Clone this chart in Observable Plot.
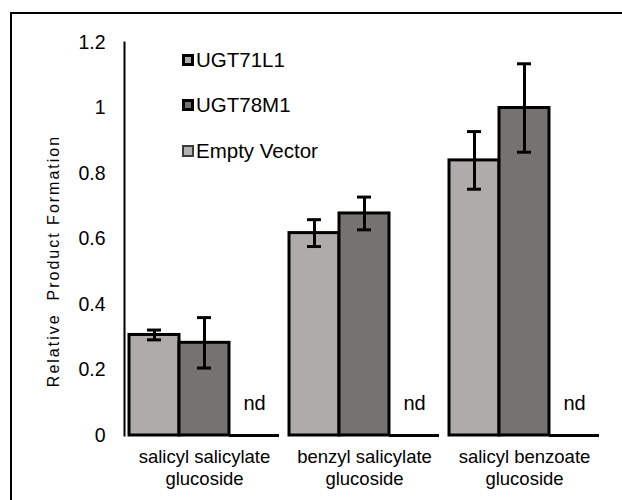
<!DOCTYPE html>
<html>
<head>
<meta charset="utf-8">
<script src="https://cdn.jsdelivr.net/npm/d3@7"></script>
<script src="https://cdn.jsdelivr.net/npm/@observablehq/plot@0.6"></script>
<style>
  body { margin: 0; background: #fff; font-family: "Liberation Sans", Arial, sans-serif; }
  #chart { position: relative; width: 622px; height: 500px; overflow: hidden; }
  #chart > svg { position: absolute; left: 0; top: 0; }
  #border { position: absolute; left: 10px; top: 12px; width: 640px; height: 520px; border: 2px solid #000; box-sizing: border-box; pointer-events: none; }
  #legend { position: absolute; left: 182px; top: 0; }
  .item { position: absolute; left: 0; white-space: nowrap; display: flex; align-items: center; height: 24px; font-size: 20.5px; color: #000; }
  .swatch { width: 12px; height: 12px; box-sizing: border-box; margin-right: 2px; }
</style>
</head>
<body>
<div id="chart"><div id="border"></div><div id="legend"></div></div>
<script>
// Substrates tested, with their two-line axis labels
const substrates = ["salicyl salicylate glucoside", "benzyl salicylate glucoside", "salicyl benzoate glucoside"];
const substrateLabels = ["salicyl salicylate\nglucoside", "benzyl salicylate\nglucoside", "salicyl benzoate\nglucoside"];

// Enzymes (series)
const series = ["UGT71L1", "UGT78M1", "Empty Vector"];
const seriesFill = ["#afabaa", "#767271", "#ffffff"];
const legendFill = ["#afabaa", "#767271", "#b4b1b0"];
const legendStroke = ["#000000", "#000000", "#3c3c3c"];

// Relative product formation (mean) and error (±)
const ugt71l1 = [0.307, 0.618, 0.84];
const ugt71l1Err = [0.015, 0.041, 0.088];
const ugt78m1 = [0.283, 0.678, 1.0];
const ugt78m1Err = [0.077, 0.05, 0.135];
const emptyVector = [0, 0, 0];
const emptyVectorErr = [0, 0, 0];
const emptyVectorNote = ["nd", "nd", "nd"];

const yTicks = [0, 0.2, 0.4, 0.6, 0.8, 1, 1.2];
const yTitle = "Relative  Product Formation";

const values = [ugt71l1, ugt78m1, emptyVector];
const errors = [ugt71l1Err, ugt78m1Err, emptyVectorErr];

const rows = substrates.flatMap((substrate, i) =>
  series.map((s, j) => ({substrate, series: s, value: values[j][i], err: errors[j][i]}))
);
const measured = rows.filter(d => d.value > 0);
const withErr = rows.filter(d => d.err > 0);
const notDetected = substrates.map((substrate, i) => ({substrate, series: series[2], value: emptyVector[i], note: emptyVectorNote[i]}));

const chart = Plot.plot({
  width: 622,
  height: 500,
  marginLeft: 124,
  marginRight: 18,
  marginTop: 42,
  marginBottom: 65,
  style: {fontFamily: "'Liberation Sans', Arial, sans-serif", color: "#000", background: "transparent"},
  fx: {domain: substrates, paddingInner: 0.0625, paddingOuter: 0.03125, axis: null, label: null},
  x: {domain: series, padding: 0, axis: null},
  y: {domain: [0, 1.2], axis: null},
  color: {domain: series, range: seriesFill},
  marks: [
    // value axis: labels, the vertical axis line and the title
    Plot.axisY({ticks: yTicks, tickSize: 0, tickPadding: 24, tickFormat: d => String(d), fontSize: 19.5, label: null}),
    Plot.frame({anchor: "left", facetAnchor: "left", dx: -5, stroke: "#000", strokeWidth: 2}),
    Plot.text([yTitle], {facetAnchor: "left", frameAnchor: "left", text: d => d, rotate: -90, textAnchor: "middle",
      dx: -76, dy: 22, fontSize: 16}),
    // bars
    Plot.barY(measured, {fx: "substrate", x: "series", y: "value", fill: "series", stroke: "#000", strokeWidth: 3}),
    Plot.tickY(notDetected, {fx: "substrate", x: "series", y: "value", stroke: "#000", strokeWidth: 3}),
    // error bars
    Plot.ruleX(withErr, {fx: "substrate", x: "series", y1: d => d.value - d.err, y2: d => d.value + d.err, stroke: "#000", strokeWidth: 3}),
    Plot.tickY(withErr, {fx: "substrate", x: "series", y: d => d.value - d.err, inset: 18, stroke: "#000", strokeWidth: 3}),
    Plot.tickY(withErr, {fx: "substrate", x: "series", y: d => d.value + d.err, inset: 18, stroke: "#000", strokeWidth: 3}),
    // not detected
    Plot.text(notDetected, {fx: "substrate", x: "series", y: "value", text: "note", dy: -32, fontSize: 20}),
    // substrate labels
    Plot.text(substrates, {fx: d => d, text: (d, i) => substrateLabels[i], frameAnchor: "bottom", lineAnchor: "top",
      dy: 12, fontSize: 18.5, lineHeight: 1.19})
  ]
});

d3.select(chart).selectAll("g[aria-label='text'] text").filter(function() { return this.textContent === yTitle; })
  .attr("letter-spacing", "2px");

document.getElementById("chart").prepend(chart);

// Legend
const legend = d3.select("#legend");
const legendCenters = [59.5, 105, 150.5];
series.forEach((s, i) => {
  const item = legend.append("div").attr("class", "item").style("top", (legendCenters[i] - 12) + "px");
  item.append("div").attr("class", "swatch")
    .style("background", legendFill[i])
    .style("border", (i < 2 ? 3 : 2) + "px solid " + legendStroke[i]);
  item.append("span").text(s);
});
</script>
</body>
</html>
